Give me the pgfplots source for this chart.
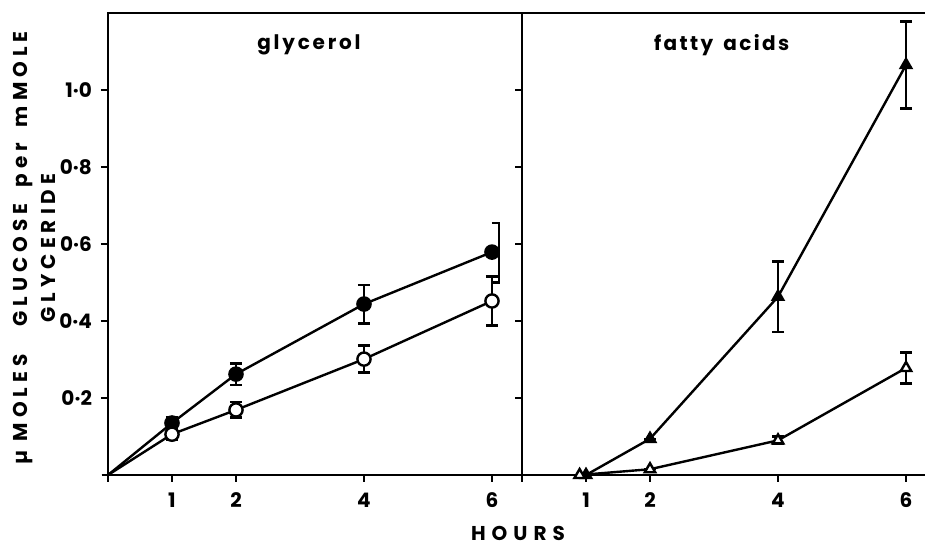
\documentclass[border=0pt]{standalone}
\usepackage{pgfplots}
\pgfplotsset{compat=1.18}
\usepackage{fontspec}
\setmainfont{Poppins}
\begin{document}
\begin{tikzpicture}
\useasboundingbox (-54pt,-35pt) rectangle (408.5pt,237.5pt);
\pgfplotsset{
  myax/.style={
    scale only axis, height=231pt, anchor=south west,
    ymin=0, ymax=1.2,
    axis line style={line width=1.2pt, black},
    tick style={line width=1.2pt, black},
    major tick length=3.5pt, tick align=outside,
    xtick pos=left, ytick pos=left,
    xtick={0,1,2,4,6}, xticklabels={,1,2,4,6},
    ytick={0.2,0.4,0.6,0.8,1.0},
    ticklabel style={font=\bfseries},
    xticklabel style={yshift=-2pt},
    yticklabel style={xshift=-1pt},
    clip=false,
  },
  ser/.style={black, line width=1.2pt, mark size=3.3pt,
    error bars/y dir=both, error bars/y explicit,
    error bars/error bar style={line width=1.2pt},
    error bars/error mark options={rotate=90, mark size=3pt, line width=1.2pt, black}},
}
\begin{axis}[myax, at={(0pt,0pt)}, width=207pt, xmin=0, xmax=6.469,
  yticklabels={0·2,0·4,0·6,0·8,1·0}]
\addplot[ser, mark=*, mark indices={2,3,4,5}, mark options={fill=black, solid}] table[x=x,y=y,y error=e]{
x y e
0 0 0
1 0.135 0.015
2 0.262 0.028
4 0.444 0.05
6 0.579 0
};
\addplot[ser, mark=*, mark indices={2,3,4,5}, mark options={fill=white, solid}] table[x=x,y=y,y error=e]{
x y e
0 0 0
1 0.106 0.015
2 0.169 0.02
4 0.301 0.035
6 0.452 0.064
};
\addplot[black, line width=1.2pt, no marks] coordinates {(6.0,0.655) (6.11,0.655) (6.11,0.50) (6.01,0.50)};
\node[font=\bfseries\addfontfeature{LetterSpace=14}] at (axis cs:3.14,1.117) {glycerol};
\end{axis}
\begin{axis}[myax, at={(207pt,0pt)}, width=210pt, xmin=0, xmax=6.5625,
  yticklabels={}]
\addplot[ser, mark=triangle*, mark size=3pt, mark options={fill=black, solid}] table[x=x,y=y,y error=e]{
x y e
1 0 0
2 0.094 0
4 0.463 0.092
6 1.065 0.113
};
\addplot[ser, mark=triangle*, mark size=3pt, mark options={fill=white, solid}] table[x=x,y=y,y error=e]{
x y e
0.9 0 0
2 0.015 0
4 0.09 0.01
6 0.278 0.04
};
\node[font=\bfseries\addfontfeature{LetterSpace=12}] at (axis cs:3.12,1.117) {fatty\hspace{5pt}acids};
\end{axis}
\node[font=\bfseries\addfontfeature{LetterSpace=30}] at (205pt,-29pt) {HOURS};
\node[rotate=90, font=\bfseries\addfontfeature{LetterSpace=25}] at (-42.5pt,113.5pt) {µ MOLES\hspace{14pt}GLUCOSE\hspace{8pt}per\hspace{8pt}mMOLE};
\node[rotate=90, font=\bfseries\addfontfeature{LetterSpace=25}] at (-30pt,113.5pt) {GLYCERIDE};
\end{tikzpicture}
\end{document}
